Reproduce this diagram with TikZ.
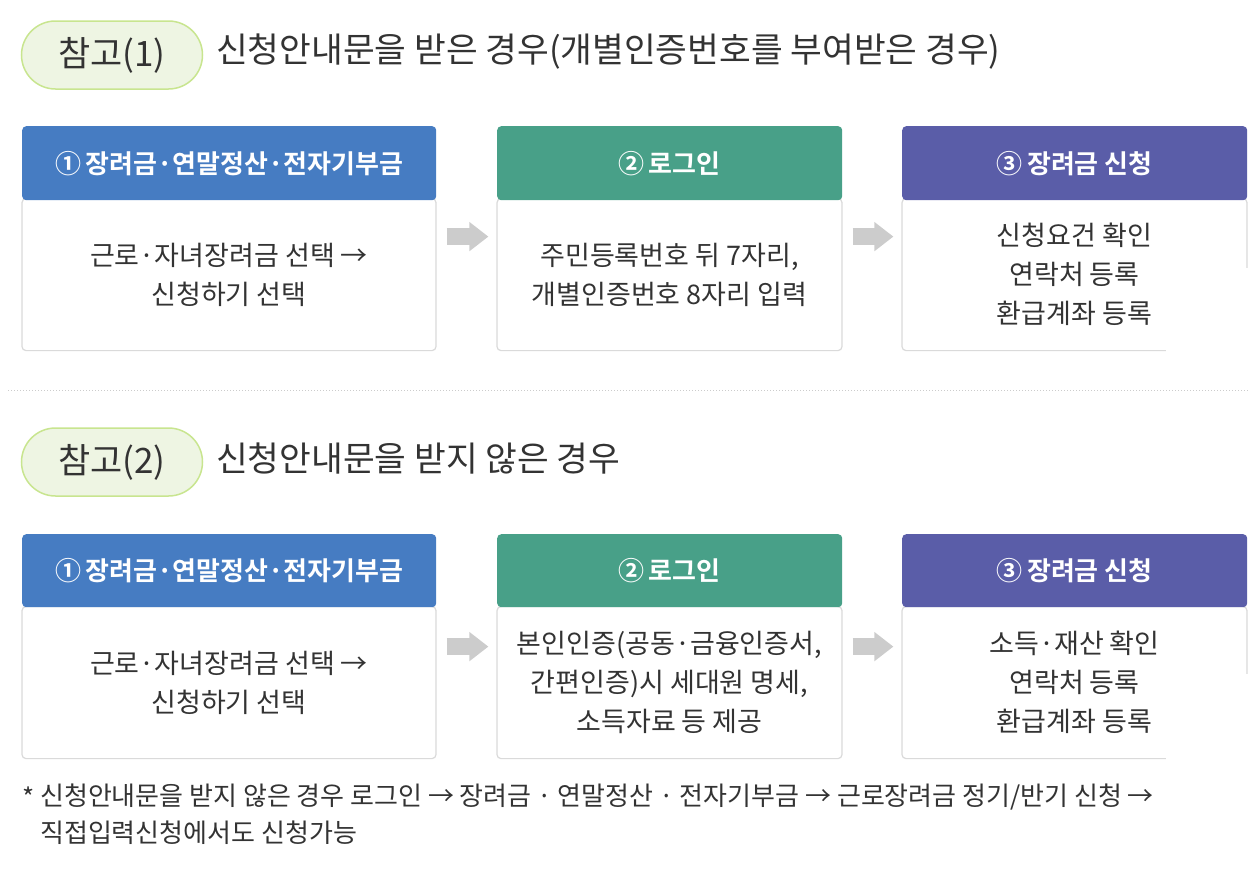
\documentclass[tikz,border=0pt]{standalone}
\usepackage{fontspec}
\setmainfont{Noto Sans CJK KR}[BoldFont={Noto Sans CJK KR Bold}]
\usetikzlibrary{arrows.meta}

\definecolor{pillfill}{HTML}{EEF5E3}
\definecolor{pillline}{HTML}{C8E58F}
\definecolor{hdblue}{HTML}{467CC2}
\definecolor{hdgreen}{HTML}{48A088}
\definecolor{hdpurple}{HTML}{5A5DA8}
\definecolor{txt}{HTML}{333333}
\definecolor{boxline}{HTML}{DADADA}
\definecolor{arrowgray}{HTML}{CCCCCC}

\tikzstyle{pill}=[shape=rectangle,rounded corners=34pt,draw=pillline,line width=1.5pt,fill=pillfill,minimum width=181pt,minimum height=68pt,text=txt,font=\fontsize{35}{40}\selectfont]
\tikzstyle{title}=[anchor=west,inner sep=0pt,text=txt,font=\fontsize{34.5}{40}\selectfont]
\tikzstyle{header}=[shape=rectangle,rounded corners=4pt,anchor=north west,minimum height=74pt,text=white,font=\fontsize{26}{30}\selectfont\bfseries]
\tikzstyle{body}=[shape=rectangle,rounded corners=4pt,draw=boxline,line width=1.2pt,fill=white,anchor=north,minimum height=152pt,align=center,text=txt,font=\fontsize{27}{39}\selectfont]
\tikzstyle{flow}=[line width=17pt,draw=arrowgray,-{Triangle[width=28pt,length=19pt]}]
\tikzstyle{note}=[anchor=west,inner sep=0pt,text=txt,font=\fontsize{26}{30}\selectfont]

\begin{document}
\begin{tikzpicture}[x=1pt,y=-1pt]
\useasboundingbox (0,0) rectangle (1260,870);
% 1st part
\node[pill] (p1) at (112,55) {참고(1)};
\node[title] (t1) at (216,52) {신청안내문을 받은 경우(개별인증번호를 부여받은 경우)};
\node[body,minimum width=414pt] (bd11) at (229,198) {근로·자녀장려금 선택 →\\신청하기 선택};
\node[header,fill=hdblue,minimum width=414pt] (hd11) at (22,126) {①\,장려금·연말정산·전자기부금};
\node[body,minimum width=345pt] (bd12) at (669.5,198) {주민등록번호 뒤 7자리,\\개별인증번호 8자리 입력};
\node[header,fill=hdgreen,minimum width=345pt] (hd12) at (497,126) {②\,로그인};
\node[body,minimum width=345pt] (bd13) at (1074.5,198) {신청요건 확인\\연락처 등록\\환급계좌 등록};
\node[header,fill=hdpurple,minimum width=345pt] (hd13) at (902,126) {③\,장려금 신청};
\fill[white] (1166,268) rectangle (1262,362);
\draw[flow] ([xshift=10pt,yshift=38pt]bd11.east) -- ([xshift=-8pt,yshift=38pt]bd12.west);
\draw[flow] ([xshift=10pt,yshift=38pt]bd12.east) -- ([xshift=-8pt,yshift=38pt]bd13.west);
% separator
\coordinate (s1) at (8,390);
\coordinate (s2) at (1248,390);
\draw[arrowgray,line width=1pt,dash pattern=on 1pt off 2pt] (s1) -- (s2);
% 2nd part
\node[pill] (p2) at (112,462) {참고(2)};
\node[title] (t2) at (216,459) {신청안내문을 받지 않은 경우};
\node[body,minimum width=414pt] (bd21) at (229,606) {근로·자녀장려금 선택 →\\신청하기 선택};
\node[header,fill=hdblue,minimum width=414pt,minimum height=73pt] (hd21) at (22,534) {①\,장려금·연말정산·전자기부금};
\node[body,minimum width=345pt] (bd22) at (669.5,606) {본인인증(공동·금융인증서,\\간편인증)시 세대원 명세,\\소득자료 등 제공};
\node[header,fill=hdgreen,minimum width=345pt,minimum height=73pt] (hd22) at (497,534) {②\,로그인};
\node[body,minimum width=345pt] (bd23) at (1074.5,606) {소득·재산 확인\\연락처 등록\\환급계좌 등록};
\node[header,fill=hdpurple,minimum width=345pt,minimum height=73pt] (hd23) at (902,534) {③\,장려금 신청};
\fill[white] (1166,674) rectangle (1262,770);
\draw[flow] ([xshift=10pt,yshift=36pt]bd21.east) -- ([xshift=-8pt,yshift=36pt]bd22.west);
\draw[flow] ([xshift=10pt,yshift=36pt]bd22.east) -- ([xshift=-8pt,yshift=36pt]bd23.west);
% footnote
\node[note] (n0) at (22,797) {*};
\node[note] (n1) at (40,797) {신청안내문을 받지 않은 경우 로그인 → 장려금 · 연말정산 · 전자기부금 → 근로장려금 정기/반기 신청 →};
\node[note] (n2) at (40,833) {직접입력신청에서도 신청가능};
\end{tikzpicture}
\end{document}
